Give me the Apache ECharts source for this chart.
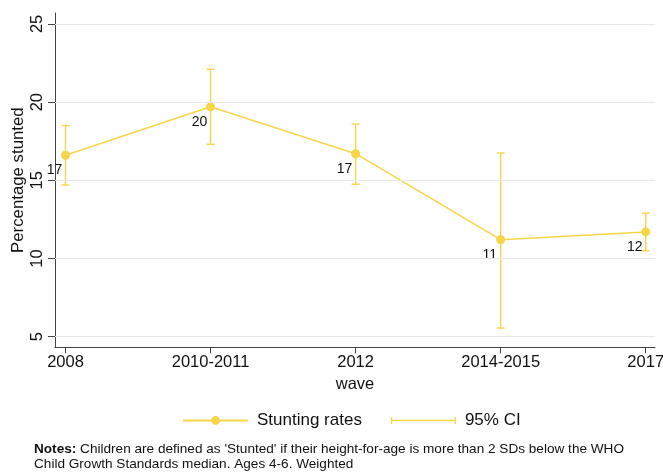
<!DOCTYPE html>
<html>
<head>
<meta charset="utf-8">
<title>Stunting rates by wave</title>
<script src="https://cdn.jsdelivr.net/npm/echarts@6/dist/echarts.min.js"></script>
<style>
  html, body { margin: 0; padding: 0; background: #fff; }
  #chart { width: 663px; height: 472px; }
</style>
</head>
<body>
<div id="chart"></div>
<script>
// data
var waves = ['2008', '2010-2011', '2012', '2014-2015', '2017'];
var stunting = [16.6, 19.7, 16.7, 11.2, 11.7];
var ciLow = [14.7, 17.3, 14.75, 5.55, 10.5];
var ciHigh = [18.5, 22.1, 18.6, 16.75, 12.9];
var yTicks = [5, 10, 15, 20, 25];
var xTicks = [0, 1, 2, 3, 4];

var yellow = '#f7d548';
var font = 'Liberation Sans, Arial, Helvetica, sans-serif';

var chart = echarts.init(document.getElementById('chart'));

var lineData = stunting.map(function (v, i) { return [i, v]; });
var ciData = stunting.map(function (v, i) { return [i, ciLow[i], ciHigh[i]]; });

function renderErr(params, api) {
    var x = api.value(0);
    var lo = api.coord([x, api.value(1)]);
    var hi = api.coord([x, api.value(2)]);
    var w = 4;
    var st = { stroke: yellow, lineWidth: 1.4 };
    return {
        type: 'group',
        children: [
            { type: 'line', shape: { x1: lo[0], y1: lo[1], x2: hi[0], y2: hi[1] }, style: st },
            { type: 'line', shape: { x1: lo[0] - w, y1: lo[1], x2: lo[0] + w, y2: lo[1] }, style: st },
            { type: 'line', shape: { x1: hi[0] - w, y1: hi[1], x2: hi[0] + w, y2: hi[1] }, style: st }
        ]
    };
}

// legend icon for the CI: a bar with caps (tiny corner dots keep the box 65x11)
var ciIcon = 'path://M0,0h0.01v0.01h-0.01z M64.99,10.99h0.01v0.01h-0.01z ' +
    'M0,2h1.3v7h-1.3z M0,4.8h65v1.4h-65z M63.7,2h1.3v7h-1.3z';

option = {
    animation: false,
    backgroundColor: '#fff',
    textStyle: { fontFamily: font },
    grid: { left: 55, right: 8, top: 13, height: 334.3, outerBoundsMode: 'none', containLabel: false },
    xAxis: {
        type: 'value',
        min: -0.0724,
        max: 4.064,
        name: 'wave',
        nameLocation: 'middle',
        nameGap: 28,
        nameTextStyle: { fontSize: 16.5, color: '#111', fontFamily: font },
        axisLine: { show: true, onZero: false, lineStyle: { color: '#444', width: 1 } },
        axisTick: { show: true, length: 6, customValues: xTicks, lineStyle: { color: '#444' } },
        axisLabel: {
            customValues: xTicks,
            fontSize: 16.5,
            color: '#111',
            margin: 7,
            formatter: function (v) { return waves[Math.round(v)]; }
        },
        splitLine: { show: false }
    },
    yAxis: {
        type: 'value',
        min: 4.32,
        max: 25.7,
        name: 'Percentage stunted',
        nameLocation: 'middle',
        nameRotate: 90,
        nameGap: 28,
        nameMoveOverlap: false,
        nameTextStyle: { fontSize: 16.8, color: '#111', fontFamily: font },
        axisLine: { show: true, onZero: false, lineStyle: { color: '#444', width: 1 } },
        axisTick: { show: true, length: 7, customValues: yTicks, lineStyle: { color: '#444' } },
        axisLabel: {
            customValues: yTicks,
            rotate: 90,
            fontSize: 16.5,
            color: '#111',
            margin: 9
        },
        splitLine: { show: false }
    },
    legend: {
        left: 182,
        top: 412,
        padding: 0,
        itemWidth: 65,
        itemHeight: 11,
        itemGap: 29,
        textStyle: { fontSize: 17, color: '#111', fontFamily: font, padding: [0, 0, 0, 4] },
        data: [
            { name: 'Stunting rates' },
            { name: '95% CI', icon: ciIcon }
        ]
    },
    graphic: [{
        type: 'text',
        left: 34,
        top: 441.5,
        style: {
            text: '{b|Notes:} Children are defined as \'Stunted\' if their height-for-age is more than 2 SDs below the WHO\nChild Growth Standards median. Ages 4-6. Weighted',
            font: '13.6px ' + font,
            fill: '#111',
            lineHeight: 15,
            rich: { b: { fontWeight: 'bold', fontSize: 13.6, fontFamily: font, fill: '#111', lineHeight: 15 } }
        }
    }],
    series: [
        {
            name: 'grid',
            type: 'line',
            data: [],
            z: 1,
            silent: true,
            markLine: {
                silent: true,
                symbol: 'none',
                label: { show: false },
                lineStyle: { color: '#e8e8e8', type: 'solid', width: 1 },
                data: yTicks.map(function (v) { return { yAxis: v }; })
            }
        },
        {
            name: '95% CI',
            type: 'custom',
            data: ciData,
            encode: { x: 0, y: [1, 2] },
            itemStyle: { color: yellow },
            renderItem: renderErr,
            z: 3
        },
        {
            name: 'Stunting rates',
            type: 'line',
            data: lineData,
            symbol: 'circle',
            symbolSize: 9,
            color: yellow,
            lineStyle: { color: yellow, width: 1.5 },
            itemStyle: { color: yellow },
            z: 4,
            label: {
                show: true,
                position: 'inside',
                offset: [-11, 15],
                fontSize: 14,
                color: '#111',
                fontFamily: font,
                formatter: function (p) { return Math.round(p.value[1]); }
            }
        }
    ]
};
chart.setOption(option);
</script>
</body>
</html>
